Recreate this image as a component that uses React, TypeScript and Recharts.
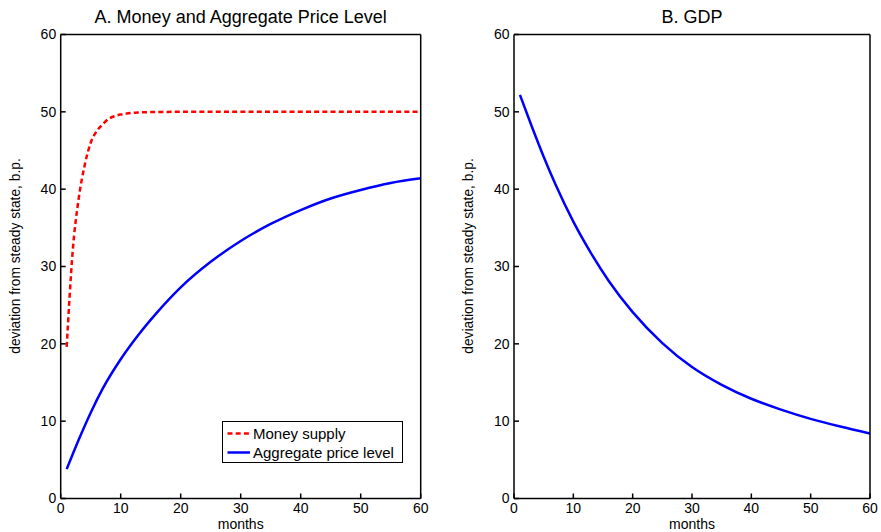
import React from "react";
import { Legend, Line, LineChart, XAxis, YAxis } from "recharts";

const FONT = '"Liberation Sans", Arial, Helvetica, sans-serif';

// panel A
const moneyMonths = [1, 2, 3, 4, 5, 6, 7, 8, 9, 10, 11, 12, 13, 14, 15, 20, 30, 40, 50, 60];
const moneySupply = [19.6, 32.0, 38.8, 43.1, 46.0, 47.5, 48.4, 49.1, 49.45, 49.65, 49.78, 49.86, 49.91, 49.95, 49.97, 50, 50, 50, 50, 50];

const curveMonths = [1, 3, 5, 7, 10, 13, 16, 20, 25, 30, 35, 40, 45, 50, 55, 60];
const priceLevel = [3.8, 7.6, 11.1, 14.2, 18.0, 21.2, 24.0, 27.3, 30.6, 33.3, 35.5, 37.3, 38.8, 39.9, 40.8, 41.4];

// panel B
const gdp = [52.2, 48.1, 44.2, 40.6, 35.8, 31.7, 28.1, 24.1, 20.1, 17.0, 14.7, 12.9, 11.5, 10.3, 9.3, 8.4];

const xTicks = [0, 10, 20, 30, 40, 50, 60];
const yTicks = [0, 10, 20, 30, 40, 50, 60];

const toRows = (xs: number[], ys: number[]) => xs.map((m, i) => ({ month: m, value: ys[i] }));

type Series = { name: string; color: string; dash?: string; data: { month: number; value: number }[] };

const panelA: Series[] = [
  { name: "Money supply", color: "#ff0000", dash: "5 3.2", data: toRows(moneyMonths, moneySupply) },
  { name: "Aggregate price level", color: "#0000ff", data: toRows(curveMonths, priceLevel) }
];
const panelB: Series[] = [{ name: "GDP", color: "#0000ff", data: toRows(curveMonths, gdp) }];

function LegendBox({ payload, series }: any) {
  const items = [...(payload || [])].sort(
    (a: any, b: any) =>
      (series as Series[]).findIndex((s) => s.name === a.value) - (series as Series[]).findIndex((s) => s.name === b.value)
  );
  return (
    <div
      style={{
        boxSizing: "border-box",
        width: 181,
        height: 42,
        border: "1px solid #000",
        background: "#fff",
        padding: "2px 0 0 4px",
        fontFamily: FONT,
        fontSize: 15,
        color: "#000"
      }}
    >
      {items.map((entry: any) => {
        const s = (series as Series[]).find((x) => x.name === entry.value);
        return (
          <div key={entry.value} style={{ display: "flex", alignItems: "center", height: 19 }}>
            <svg width={26} height={19} style={{ flex: "none" }}>
              <line x1={0.5} x2={23} y1={9.5} y2={9.5} stroke={s?.color} strokeWidth={2.5} strokeDasharray={s?.dash} />
            </svg>
            <span style={{ lineHeight: "19px" }}>{entry.value}</span>
          </div>
        );
      })}
    </div>
  );
}

function Panel({ title, series, width, axisWidth, rightPad, legend }: { title: string; series: Series[]; width: number; axisWidth: number; rightPad: number; legend?: boolean }) {
  const plotLeft = axisWidth;
  const plotRight = width - rightPad;
  const cx = (plotLeft + plotRight) / 2;
  return (
    <LineChart width={width} height={532} margin={{ top: 33.5, right: rightPad - 1, bottom: 0, left: 0 }}>
      <XAxis
        type="number"
        dataKey="month"
        domain={[0, 60]}
        ticks={xTicks}
        allowDataOverflow
        height={33.5}
        stroke="#000"
        strokeWidth={1.5}
        tickSize={-5}
        tickMargin={9.5}
        tick={{ fill: "#000", fontSize: 14, fontFamily: FONT }}
        label={{
          content: () => (
            <text x={cx} y={529} textAnchor="middle" fontSize={14} fontFamily={FONT} fill="#000">
              months
            </text>
          )
        }}
      />
      <XAxis
        xAxisId="top"
        orientation="top"
        type="number"
        dataKey="month"
        domain={[0, 60]}
        ticks={xTicks}
        allowDataOverflow
        height={1}
        stroke="#000"
        strokeWidth={1.5}
        tickSize={-5}
        tick={false}
        label={{
          content: () => (
            <text x={cx} y={23} textAnchor="middle" fontSize={18} fontFamily={FONT} fill="#000">
              {title}
            </text>
          )
        }}
      />
      <YAxis
        type="number"
        domain={[0, 60]}
        ticks={yTicks}
        allowDataOverflow
        width={axisWidth}
        stroke="#000"
        strokeWidth={1.5}
        tickSize={-5}
        tickMargin={9.5}
        tick={{ fill: "#000", fontSize: 14, fontFamily: FONT }}
        label={{
          content: () => {
            const x = axisWidth - 40.7;
            const y = 256;
            return (
              <text x={x} y={y} transform={`rotate(-90, ${x}, ${y})`} textAnchor="middle" fontSize={13.8} fontFamily={FONT} fill="#000">
                deviation from steady state, b.p.
              </text>
            );
          }
        }}
      />
      <YAxis
        yAxisId="right"
        orientation="right"
        type="number"
        domain={[0, 60]}
        ticks={yTicks}
        allowDataOverflow
        width={1}
        stroke="#000"
        strokeWidth={1.5}
        tickSize={-5}
        tick={false}
      />
      {series.map((s) => (
        <Line
          key={s.name}
          data={s.data}
          dataKey="value"
          name={s.name}
          type="monotone"
          stroke={s.color}
          strokeWidth={2.5}
          strokeDasharray={s.dash}
          dot={false}
          activeDot={false}
          isAnimationActive={false}
        />
      ))}
      {legend && (
        <Legend
          layout="vertical"
          align="center"
          verticalAlign="middle"
          content={(props: any) => <LegendBox {...props} series={series} />}
          wrapperStyle={{ position: "absolute", left: 222, top: 421, width: 181, height: 42, margin: 0 }}
        />
      )}
    </LineChart>
  );
}

export default function App() {
  return (
    <div style={{ position: "absolute", left: 0, top: 0, width: 881, height: 532, background: "#fff", display: "flex" }}>
      <Panel title="A. Money and Aggregate Price Level" series={panelA} width={440} axisWidth={60.7} rightPad={19.3} legend />
      <Panel title="B. GDP" series={panelB} width={441} axisWidth={74} rightPad={11} />
    </div>
  );
}
